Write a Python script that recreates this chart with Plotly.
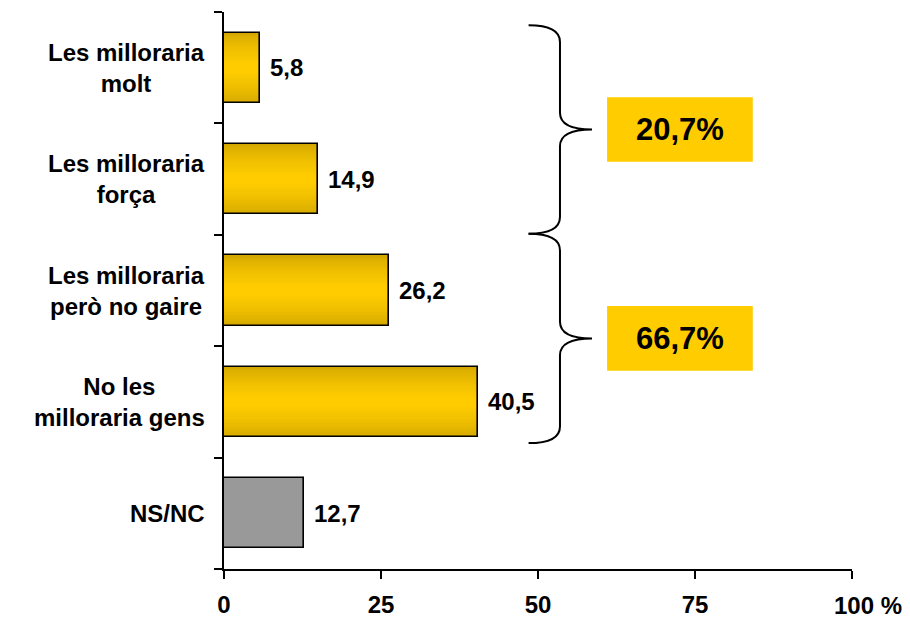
import plotly.graph_objects as go

# ---- data ----
categories = ["Les milloraria<br>molt", "Les milloraria<br>força",
              "Les milloraria<br>però no gaire", "No les<br>milloraria gens", "NS/NC"]
values = [5.8, 14.9, 26.2, 40.5, 12.7]
x_ticks = [0, 25, 50, 75, 100]
x_tick_labels = ["0", "25", "50", "75", ""]
last_tick_label = "100 %"
groups = [[0, 1], [2, 3]]  # categories summed in the yellow boxes

FONT = "Liberation Sans, Arial, sans-serif"
positions = list(range(len(categories)))
yellow_idx = positions[:4]
gray_idx = positions[4:]
BAR_W = 0.63

fig = go.Figure()

# gradient simulation for yellow bars: stacked overlay layers (dark edges, bright centre)
n_layers = 14
edge = (212, 168, 0)
centre = (255, 204, 0)
for i in range(n_layers):
    t = i / (n_layers - 1)
    frac = 1.0 - 0.85 * t
    col = tuple(round(edge[j] + (centre[j] - edge[j]) * (t ** 0.7)) for j in range(3))
    fig.add_trace(go.Bar(
        x=[values[k] for k in yellow_idx], y=yellow_idx, orientation="h",
        width=BAR_W * frac, marker=dict(color=f"rgb{col}", line=dict(width=0)),
        hoverinfo="skip", showlegend=False))
# outline of yellow bars
fig.add_trace(go.Bar(
    x=[values[k] for k in yellow_idx], y=yellow_idx, orientation="h", width=BAR_W,
    marker=dict(color="rgba(0,0,0,0)", line=dict(color="black", width=1.6)),
    showlegend=False))
# gray bar
fig.add_trace(go.Bar(
    x=[values[k] for k in gray_idx], y=gray_idx, orientation="h", width=BAR_W,
    marker=dict(color="#999999", line=dict(color="black", width=1.6)),
    showlegend=False))

TXT = dict(family=FONT, size=24, color="black", weight="bold")
annotations = []
# value labels
for p, v in zip(positions, values):
    annotations.append(dict(x=v, y=p, xref="x", yref="y", xanchor="left", yanchor="middle",
                            xshift=8, showarrow=False, text=f"{v:.1f}".replace(".", ","),
                            font=TXT))
# category labels
for p, c in zip(positions, categories):
    annotations.append(dict(x=0, y=p, xref="paper", yref="y", xanchor="right", yanchor="middle",
                            xshift=-17, showarrow=False, text=c, align="center",
                            font=TXT))
# "100 %" label, with the digits centred on the tick
annotations.append(dict(x=x_ticks[-1], y=0, xref="x", yref="paper", xanchor="left",
                        yanchor="middle", xshift=-19, yshift=-36, showarrow=False,
                        text=last_tick_label, font=TXT, borderpad=0))

shapes = []
# braces and boxes
bx_left, bx_vert, bx_tip = 48.5, 53.5, 58.6
box_x0, box_x1 = 61.0, 84.2
brace_bounds = [(-0.38, 1.49), (1.49, 3.37)]
for (g, (y0, y1)) in zip(groups, brace_bounds):
    ym = (y0 + y1) / 2
    c = 0.15
    path = (f"M {bx_left},{y0} Q {bx_vert},{y0} {bx_vert},{y0 + c} "
            f"L {bx_vert},{ym - c} Q {bx_vert},{ym} {bx_tip},{ym} "
            f"Q {bx_vert},{ym} {bx_vert},{ym + c} "
            f"L {bx_vert},{y1 - c} Q {bx_vert},{y1} {bx_left},{y1}")
    shapes.append(dict(type="path", path=path, xref="x", yref="y",
                       line=dict(color="black", width=2)))
    shapes.append(dict(type="rect", xref="x", yref="y", x0=box_x0, x1=box_x1,
                       y0=ym - 0.29, y1=ym + 0.29, fillcolor="#FFCC00", line=dict(width=0),
                       layer="below"))
    total = sum(values[k] for k in g)
    annotations.append(dict(x=(box_x0 + box_x1) / 2, y=ym, xref="x", yref="y",
                            showarrow=False, text=f"{total:.1f}%".replace(".", ","),
                            font=dict(family=FONT, size=31, color="black", weight="bold")))

# the page body adds an 8px offset; the figure is sized to fit the 910x617 window
fig.update_layout(
    width=902, height=609, barmode="overlay", bargap=0,
    margin=dict(l=216, r=58, t=4, b=48, autoexpand=False),
    plot_bgcolor="white", paper_bgcolor="white",
    annotations=annotations, shapes=shapes,
    xaxis=dict(range=[0, 100], tickvals=x_ticks, ticktext=x_tick_labels,
               showgrid=False, zeroline=False, showline=True, linecolor="black", linewidth=2,
               ticks="outside", ticklen=8, tickwidth=2, tickcolor="black",
               tickfont=TXT, ticklabelstandoff=5),
    yaxis=dict(range=[4.5, -0.5], tickvals=[-0.5, 0.5, 1.5, 2.5, 3.5, 4.5],
               showticklabels=False, showgrid=False, zeroline=False,
               showline=True, linecolor="black", linewidth=2,
               ticks="outside", ticklen=8, tickwidth=2, tickcolor="black"),
)

fig.write_html("out.html")
